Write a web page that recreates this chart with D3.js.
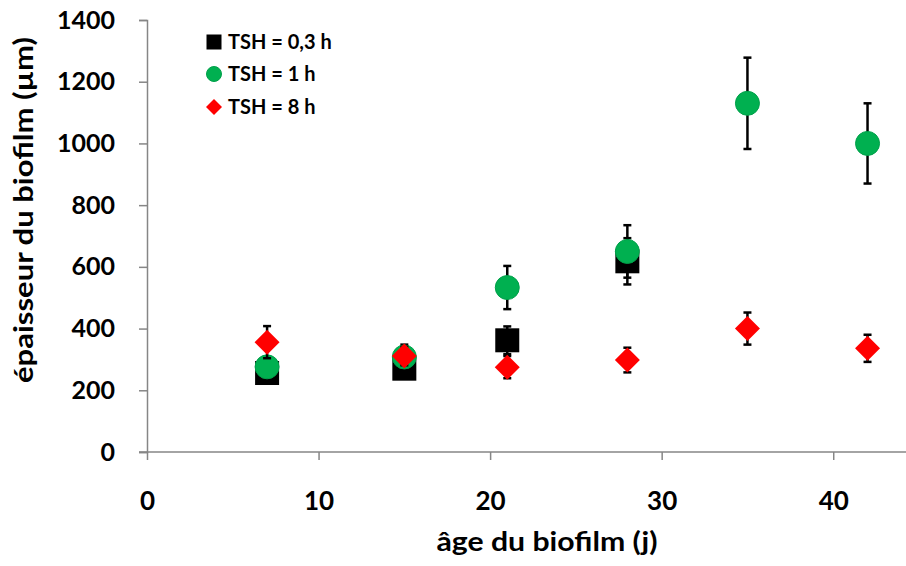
<!DOCTYPE html>
<html><head><meta charset="utf-8">
<script src="https://cdn.jsdelivr.net/npm/d3@7"></script>
<style>body{margin:0;background:#fff}svg{display:block}</style>
</head><body>
<script>
const days = [7, 15, 21, 28, 35, 42];
const seriesNames = ["TSH = 0,3 h", "TSH = 1 h", "TSH = 8 h"];
const tsh03 = [256, 270, 362, 618];
const tsh03Err = [20, 30, 45, 75];
const tsh1 = [276, 308, 533, 650, 1130, 1000];
const tsh1Err = [20, 40, 70, 85, 148, 130];
const tsh8 = [356, 311, 275, 298, 400, 336];
const tsh8Err = [52, 30, 36, 40, 52, 44];
const xTicks = [0, 10, 20, 30, 40];
const yTicks = [0, 200, 400, 600, 800, 1000, 1200, 1400];
const xTitle = "âge du biofilm (j)";
const yTitle = "épaisseur du biofilm (µm)";

const W = 906, H = 566;
const svg = d3.select("body").append("svg").attr("width", W).attr("height", H);
const x = d3.scaleLinear().domain([0, 45]).range([147, 919]);
const y = d3.scaleLinear().domain([0, 1400]).range([452, 20]);
const font = "Lato, 'Open Sans', sans-serif";
const axisColor = "#868686";

// Y axis
const ya = svg.append("g").attr("transform", `translate(${x(0)},0)`)
  .call(d3.axisLeft(y).tickValues(yTicks).tickFormat(d3.format("d")).tickSize(8).tickPadding(24));
ya.select(".domain").attr("stroke", axisColor).attr("stroke-width", 1.5);
ya.selectAll(".tick line").attr("stroke", axisColor).attr("stroke-width", 1.5);
ya.selectAll(".tick text").attr("font-family", font).attr("font-weight", "bold")
  .attr("font-size", 25).attr("fill", "#000");

// X axis
const xa = svg.append("g").attr("transform", `translate(0,${y(0)})`)
  .call(d3.axisBottom(x).tickValues(xTicks).tickFormat(d3.format("d")).tickSize(8).tickPadding(32).tickSizeOuter(0));
xa.select(".domain").attr("stroke", axisColor).attr("stroke-width", 1.5)
  .attr("d", `M${x(0) - 8},0H${W + 20}`);
xa.selectAll(".tick line").attr("stroke", axisColor).attr("stroke-width", 1.5);
xa.selectAll(".tick text").attr("font-family", font).attr("font-weight", "bold")
  .attr("font-size", 26).attr("fill", "#000");

// Titles
svg.append("text").attr("x", 547).attr("y", 551).attr("text-anchor", "middle")
  .attr("font-family", font).attr("font-weight", "bold").attr("font-size", 26)
  .attr("textLength", 221).attr("lengthAdjust", "spacingAndGlyphs").text(xTitle);
svg.append("text").attr("transform", "translate(33,210) rotate(-90)").attr("text-anchor", "middle")
  .attr("font-family", font).attr("font-weight", "bold").attr("font-size", 26)
  .attr("textLength", 346).attr("lengthAdjust", "spacingAndGlyphs").text(yTitle);

const series = [
  {vals: tsh03, err: tsh03Err, shape: "square", fill: "#000000", stroke: "#000000"},
  {vals: tsh1, err: tsh1Err, shape: "circle", fill: "#00B050", stroke: "#00A04A"},
  {vals: tsh8, err: tsh8Err, shape: "diamond", fill: "#FF0000", stroke: "#E00000"}
];

function drawMarker(g, shape, cx, cy, size, fill, stroke) {
  if (shape === "square") {
    g.append("rect").attr("x", cx - size / 2).attr("y", cy - size / 2)
      .attr("width", size).attr("height", size).attr("fill", fill);
  } else if (shape === "circle") {
    g.append("circle").attr("cx", cx).attr("cy", cy).attr("r", size / 2)
      .attr("fill", fill).attr("stroke", stroke).attr("stroke-width", 1);
  } else {
    const h = size / 2;
    g.append("path").attr("d", `M${cx},${cy - h}L${cx + h},${cy}L${cx},${cy + h}L${cx - h},${cy}Z`)
      .attr("fill", fill);
  }
}

const plot = svg.append("g");
series.forEach(s => {
  const g = plot.append("g");
  s.vals.forEach((v, i) => {
    const cx = x(days[i]);
    const lo = y(v - s.err[i]), hi = y(v + s.err[i]);
    g.append("line").attr("x1", cx).attr("x2", cx).attr("y1", lo).attr("y2", hi)
      .attr("stroke", "#000").attr("stroke-width", 2.5);
    [lo, hi].forEach(yy => g.append("line").attr("x1", cx - 4).attr("x2", cx + 4)
      .attr("y1", yy).attr("y2", yy).attr("stroke", "#000").attr("stroke-width", 2.5));
  });
  s.vals.forEach((v, i) => {
    const sz = s.shape === "square" ? 24 : s.shape === "circle" ? 24 : 25;
    drawMarker(g, s.shape, x(days[i]), y(v), sz, s.fill, s.stroke);
  });
});

// Legend
const legY = [42, 74, 107];
series.forEach((s, i) => {
  const sz = s.shape === "square" ? 15 : s.shape === "circle" ? 15 : 16;
  drawMarker(svg, s.shape, 214, legY[i], sz, s.fill, s.stroke);
  svg.append("text").attr("x", 228).attr("y", legY[i] + 7)
    .attr("font-family", font).attr("font-weight", "bold").attr("font-size", 20)
    .text(seriesNames[i]);
});
</script>
</body></html>
